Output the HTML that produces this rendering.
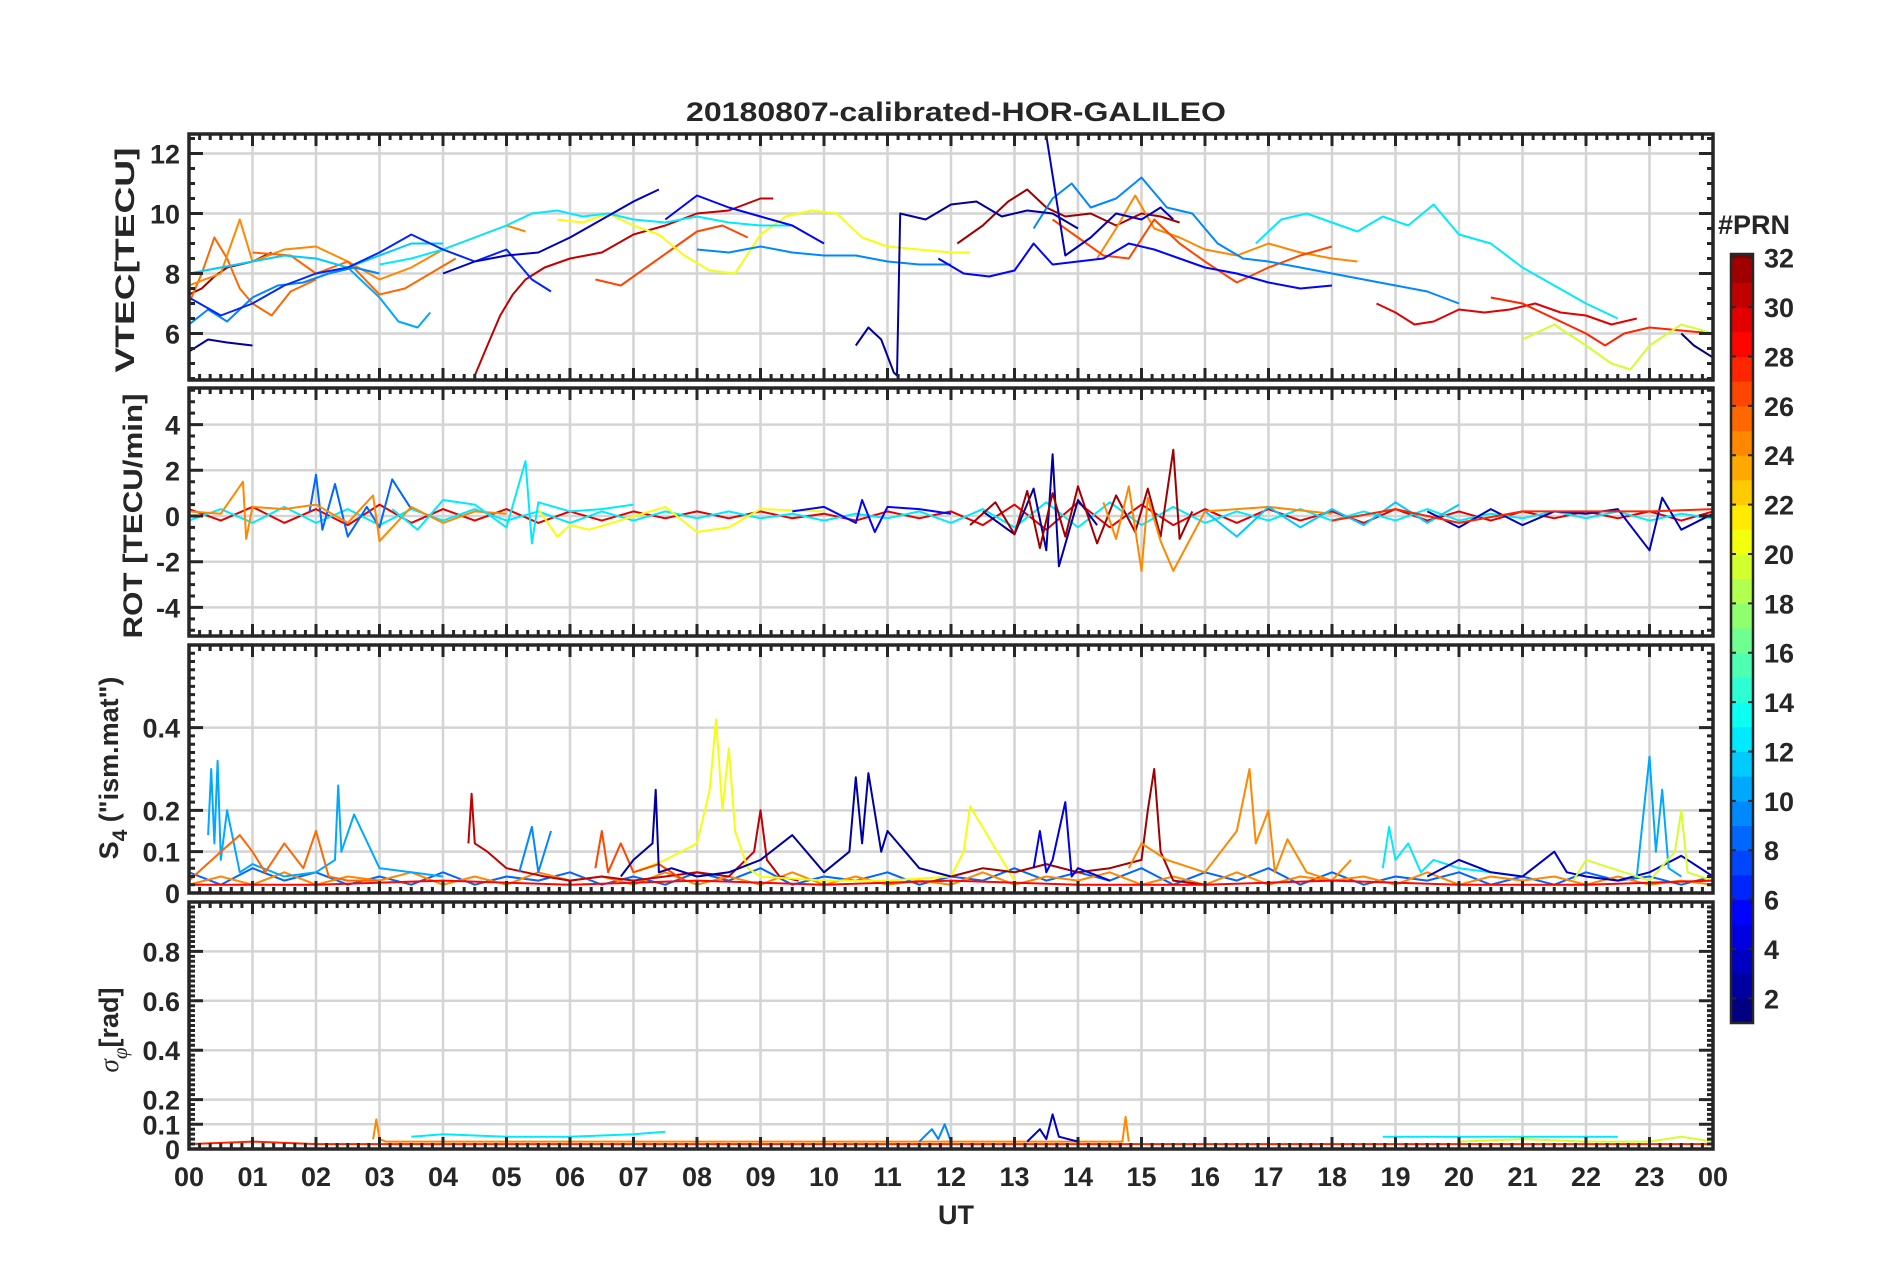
<!DOCTYPE html>
<html><head><meta charset="utf-8">
<style>
html,body{margin:0;padding:0;background:#fff;}
svg{display:block;font-family:"Liberation Sans",Arial,sans-serif;}
.t{font-weight:bold;fill:#262626;font-size:27px;}
</style></head>
<body>
<svg id="chart" width="1902" height="1272" viewBox="0 0 1902 1272" xmlns="http://www.w3.org/2000/svg">
<text class="t" x="956" y="121" text-anchor="middle" font-size="29" textLength="540" lengthAdjust="spacingAndGlyphs">20180807-calibrated-HOR-GALILEO</text>
<g id="panels"></g>
<text class="t" x="956" y="1224" text-anchor="middle" font-size="29">UT</text>
<text class="t" transform="translate(134,260) rotate(-90)" text-anchor="middle" font-size="30" textLength="225" lengthAdjust="spacingAndGlyphs">VTEC[TECU]</text>
<text class="t" transform="translate(142,516) rotate(-90)" text-anchor="middle" font-size="30" textLength="245" lengthAdjust="spacingAndGlyphs">ROT [TECU/min]</text>
<text class="t" transform="translate(118,768) rotate(-90)" text-anchor="middle" font-size="30">S<tspan font-size="21" dy="9">4</tspan><tspan dy="-9"> ("ism.mat")</tspan></text>
<text class="t" transform="translate(118,1030) rotate(-90)" text-anchor="middle" font-size="30"><tspan font-style="italic" font-weight="normal" font-family="Liberation Serif">σ</tspan><tspan font-size="21" dy="9" font-style="italic" font-weight="normal" font-family="Liberation Serif">φ</tspan><tspan dy="-9">[rad]</tspan></text>
<g id="cbar"></g>
<text class="t" x="1718" y="234" font-size="30">#PRN</text>
</svg>
<script>
// ---- data ----
const hourLabels=["00","01","02","03","04","05","06","07","08","09","10","11","12","13","14","15","16","17","18","19","20","21","22","23","00"];
const vtecTicks=[6,8,10,12];
const rotTicks=[-4,-2,0,2,4];
const s4Ticks=[0,0.1,0.2,0.4];
const sigTicks=[0,0.1,0.2,0.4,0.6,0.8];
const cbarTicks=[2,4,6,8,10,12,14,16,18,20,22,24,26,28,30,32];
const vtecSeries=[
 {prn:31,t:[0,0.2,0.4,0.6,0.8,1.0,1.3],v:[7.3,7.5,7.9,8.2,8.3,8.4,8.7]},
 {prn:30,t:[4.5,4.7,4.9,5.1,5.3,5.6,6.0,6.5,7.0,7.5,8.0,8.5,9.0,9.2],v:[4.6,5.6,6.6,7.3,7.8,8.2,8.5,8.7,9.3,9.6,10.0,10.1,10.5,10.5]},
 {prn:31,t:[12.1,12.5,12.9,13.2,13.5,13.8,14.2,14.6,15.0,15.3,15.6],v:[9.0,9.6,10.4,10.8,10.2,9.9,10.0,9.6,10.0,9.9,9.7]},
 {prn:29,t:[18.7,19.0,19.3,19.6,20.0,20.4,20.8,21.2,21.6,22.0,22.4,22.8],v:[7.0,6.7,6.3,6.4,6.8,6.7,6.8,7.0,6.7,6.6,6.3,6.5]},
 {prn:25,t:[0,0.2,0.4,0.6,0.8,1.0,1.3,1.6,2.0],v:[7.0,8.0,9.2,8.5,7.5,7.0,6.6,7.4,7.8]},
 {prn:24,t:[0,0.5,0.8,1.0,1.5,2.0,2.5,3.0,3.5,4.0,4.5,5.0,5.3],v:[7.6,8.0,9.8,8.4,8.8,8.9,8.4,7.8,8.2,8.8,9.2,9.6,9.4]},
 {prn:25,t:[1.0,1.6,2.0,2.5,3.0,3.4,3.8,4.2],v:[8.7,8.6,8.0,8.4,7.3,7.5,8.0,8.5]},
 {prn:26,t:[6.4,6.8,7.2,7.6,8.0,8.4,8.8],v:[7.8,7.6,8.2,8.8,9.4,9.6,9.2]},
 {prn:24,t:[14.3,14.6,14.9,15.2,15.6,16.0,16.5,17.0,17.5,18.0,18.4],v:[8.5,9.5,10.6,9.5,9.2,8.8,8.6,9.0,8.7,8.5,8.4]},
 {prn:26,t:[13.6,14.0,14.4,14.8,15.2,15.6,16.0,16.5,17.0,17.5,18.0],v:[9.8,9.2,8.6,8.5,9.8,9.0,8.4,7.7,8.2,8.6,8.9]},
 {prn:27,t:[20.5,21.0,21.5,22.0,22.3,22.6,23.0,23.5,24.0],v:[7.2,7.0,6.5,6.0,5.6,6.0,6.2,6.1,6.0]},
 {prn:20,t:[5.8,6.2,6.6,7.0,7.4,7.8,8.2,8.6,9.0,9.4,9.8,10.2,10.6,11.0,11.5,12.0,12.3],v:[9.8,9.7,10.0,9.6,9.3,8.6,8.1,8.0,9.3,9.9,10.1,10.0,9.2,8.9,8.8,8.7,8.7]},
 {prn:19,t:[21.0,21.5,22.0,22.4,22.7,23.0,23.5,24.0],v:[5.8,6.3,5.6,5.0,4.8,5.6,6.3,6.0]},
 {prn:12,t:[3.0,3.5,4.0,4.5,5.0,5.4,5.8,6.2,6.6,7.0,7.5,8.0,8.5,9.0,9.5],v:[8.3,8.5,8.8,9.2,9.6,10.0,10.1,9.9,10.0,9.8,9.7,9.9,9.7,9.6,9.6]},
 {prn:12,t:[16.8,17.2,17.6,18.0,18.4,18.8,19.2,19.6,20.0,20.5,21.0,21.5,22.0,22.5],v:[9.0,9.8,10.0,9.7,9.4,9.9,9.6,10.3,9.3,9.0,8.2,7.6,7.0,6.5]},
 {prn:11,t:[0,0.5,1.0,1.5,2.0,2.5,3.0,3.5,4.0],v:[8.0,8.2,8.4,8.6,8.5,8.2,8.6,9.0,9.0]},
 {prn:10,t:[2.5,3.0,3.3,3.6,3.8],v:[8.2,7.2,6.4,6.2,6.7]},
 {prn:9,t:[0,0.3,0.6,1.0,1.4,1.8,2.2,2.6,3.0],v:[6.3,6.8,6.4,7.2,7.6,7.7,8.0,8.2,8.0]},
 {prn:9,t:[8.0,8.5,9.0,9.5,10.0,10.5,11.0,11.5,12.0],v:[8.8,8.7,8.9,8.7,8.6,8.6,8.4,8.3,8.3]},
 {prn:9,t:[13.3,13.6,13.9,14.2,14.6,15.0,15.4,15.8,16.2,16.6,17.0,17.5,18.0,18.5,19.0,19.5,20.0],v:[9.5,10.5,11.0,10.2,10.5,11.2,10.2,10.0,9.0,8.5,8.4,8.2,8.0,7.8,7.6,7.4,7.0]},
 {prn:6,t:[0,0.5,1.0,1.5,2.0,2.5,3.0,3.5,4.0,4.5,5.0,5.4,5.7],v:[7.2,6.6,7.0,7.6,8.0,8.2,8.7,9.3,8.8,8.4,8.8,7.8,7.4]},
 {prn:5,t:[7.5,8.0,8.5,9.0,9.5,10.0],v:[9.8,10.6,10.2,9.9,9.6,9.0]},
 {prn:5,t:[11.8,12.2,12.6,13.0,13.3,13.6,14.0,14.4,14.8,15.2,15.6,16.0,16.5,17.0,17.5,18.0],v:[8.5,8.0,7.9,8.1,9.0,8.3,8.4,8.5,9.0,8.8,8.5,8.2,8.0,7.7,7.5,7.6]},
 {prn:2,t:[0,0.3,0.6,1.0],v:[5.4,5.8,5.7,5.6]},
 {prn:3,t:[4.0,4.5,5.0,5.5,6.0,6.5,7.0,7.4],v:[8.0,8.4,8.6,8.7,9.2,9.8,10.4,10.8]},
 {prn:2,t:[10.5,10.7,10.9,11.1,11.15,11.2,11.6,12.0,12.4,12.8,13.2,13.6,14.0],v:[5.6,6.2,5.8,4.7,4.6,10.0,9.8,10.3,10.4,9.9,10.1,10.0,9.5]},
 {prn:3,t:[13.5,13.8,14.2,14.6,15.0,15.3,15.5],v:[12.6,8.6,9.2,10.0,9.8,10.2,9.8]},
 {prn:1,t:[23.5,23.7,24.0],v:[6.0,5.6,5.2]}
];
const rotBaseT=[0,0.5,1,1.5,2,2.5,3,3.5,4,4.5,5,5.5,6,6.5,7,7.5,8,8.5,9,9.5,10,10.5,11,11.5,12,12.5,13,13.5,14,14.5,15,15.5,16,16.5,17,17.5,18,18.5,19,19.5,20,20.5,21,21.5,22,22.5,23,23.5,24];
const rotBaseA=[0.3,-0.2,0.4,-0.3,0.3,-0.4,0.5,-0.3,0.3,-0.2,0.3,-0.3,0.2,-0.2,0.2,-0.1,0.2,-0.1,0.2,-0.1,0.1,-0.2,0.2,-0.1,0.2,-0.4,0.5,-0.6,0.6,-0.5,0.5,-0.4,0.3,-0.3,0.3,-0.2,0.2,-0.3,0.3,-0.2,0.2,-0.2,0.2,-0.1,0.2,-0.1,0.2,-0.2,0.2];
const rotBaseB=[-0.2,0.3,-0.3,0.4,-0.3,0.3,-0.4,0.3,-0.2,0.3,-0.2,0.2,-0.3,0.2,-0.2,0.2,-0.1,0.2,-0.1,0.1,-0.2,0.1,-0.1,0.2,-0.3,0.3,-0.5,0.6,-0.5,0.6,-0.4,0.4,-0.3,0.2,-0.2,0.3,-0.2,0.2,-0.2,0.3,-0.2,0.1,-0.1,0.2,-0.1,0.2,-0.2,0.1,-0.1];
const rotSeries=[
 {prn:29,t:rotBaseT,v:rotBaseA},
 {prn:12,t:rotBaseT,v:rotBaseB},
 {prn:8,t:[1.9,2.0,2.1,2.3,2.5,2.8,3.0,3.2,3.5],v:[0.2,1.8,-0.6,1.4,-0.9,0.4,-0.5,1.6,0.3]},
 {prn:24,t:[0,0.5,0.85,0.9,1.0,1.5,2.0,2.5,2.9,3.0,3.5,4.0,4.5,5.0],v:[0.2,0.1,1.5,-1.0,0.4,0.3,0.5,-0.3,0.9,-1.1,0.4,-0.3,0.2,0.1]},
 {prn:12,t:[3.2,3.6,4.0,4.5,5.0,5.3,5.4,5.5,6.0,6.5,7.0],v:[0.3,-0.6,0.7,0.5,-0.5,2.4,-1.2,0.6,0.2,0.3,0.5]},
 {prn:20,t:[5.5,5.8,6.0,6.3,7.5,8.0,8.5,9.0,10.0],v:[0.3,-0.9,-0.4,-0.6,0.4,-0.7,-0.5,0.3,0.2]},
 {prn:5,t:[9.5,10.0,10.5,10.6,10.8,11.0,11.5,12.0],v:[0.2,0.4,-0.3,0.7,-0.7,0.4,0.3,0.1]},
 {prn:2,t:[12.5,13.0,13.3,13.5,13.6,13.7,14.0,14.3],v:[0.2,-0.8,1.2,-1.5,2.7,-2.2,0.7,-0.4]},
 {prn:31,t:[12.3,12.7,13.0,13.2,13.4,13.6,13.8,14.0,14.3,14.6,14.9,15.1,15.3,15.5,15.6,15.8],v:[-0.4,0.6,-0.8,1.1,-1.4,1.0,-0.9,1.3,-1.2,0.9,-0.7,1.2,-0.9,2.9,-1.0,0.2]},
 {prn:24,t:[14.4,14.6,14.8,15.0,15.1,15.3,15.5,16.0,17.0,18.0],v:[0.6,-1.0,1.3,-2.4,0.8,-1.1,-2.4,0.2,0.4,0.1]},
 {prn:11,t:[16.0,16.5,17.0,17.5,18.0,18.5,19.0,19.5,20.0],v:[0.2,-0.9,0.4,-0.5,0.3,-0.4,0.6,-0.3,0.5]},
 {prn:3,t:[19.5,20.0,20.5,21.0,21.5,22.0,22.5,23.0,23.2,23.5,24.0],v:[0.2,-0.5,0.3,-0.4,0.2,0.1,0.3,-1.5,0.8,-0.6,0.1]},
 {prn:27,t:[18.0,19.0,20.0,21.0,22.0,23.0,24.0],v:[-0.2,0.3,-0.3,0.2,0.2,0.2,0.3]}
];
const s4BaseA=[0.05,0.02,0.06,0.03,0.05,0.02,0.04,0.02,0.05,0.02,0.04,0.03,0.05,0.02,0.04,0.02,0.05,0.03,0.06,0.02,0.04,0.03,0.05,0.02,0.04,0.03,0.06,0.03,0.05,0.03,0.06,0.02,0.05,0.03,0.06,0.02,0.05,0.02,0.04,0.03,0.05,0.02,0.04,0.02,0.05,0.03,0.04,0.02,0.04];
const s4BaseB=[0.02,0.04,0.02,0.05,0.02,0.04,0.03,0.05,0.02,0.04,0.02,0.05,0.03,0.04,0.02,0.05,0.02,0.04,0.02,0.05,0.02,0.04,0.02,0.03,0.02,0.05,0.02,0.04,0.03,0.05,0.02,0.04,0.02,0.05,0.02,0.04,0.03,0.04,0.02,0.05,0.02,0.04,0.03,0.04,0.02,0.04,0.02,0.03,0.02];
const s4Series=[
 {prn:8,t:rotBaseT,v:s4BaseA},
 {prn:24,t:rotBaseT,v:s4BaseB},
 {prn:10,t:[0.3,0.35,0.4,0.45,0.5,0.6,0.8,1.0,1.5,2.0,2.3,2.35,2.4,2.6,3.0,3.5,4.0],v:[0.14,0.3,0.12,0.32,0.08,0.2,0.05,0.07,0.04,0.05,0.08,0.26,0.1,0.19,0.06,0.05,0.04]},
 {prn:25,t:[0,0.5,0.8,1.0,1.2,1.5,1.8,2.0,2.2,2.5,3.0],v:[0.03,0.1,0.14,0.1,0.05,0.12,0.06,0.15,0.04,0.03,0.03]},
 {prn:30,t:[4.4,4.45,4.5,4.7,5.0,5.3,5.6,6.0,6.5,7.0,7.5,8.0,8.5,8.9,9.0,9.1,9.3,9.6],v:[0.12,0.24,0.12,0.1,0.06,0.05,0.04,0.03,0.04,0.03,0.04,0.05,0.04,0.1,0.2,0.08,0.04,0.03]},
 {prn:9,t:[5.2,5.4,5.5,5.7],v:[0.05,0.16,0.05,0.15]},
 {prn:20,t:[7.0,7.5,8.0,8.2,8.3,8.4,8.5,8.6,8.8,9.0,10.0,11.0,12.0,12.2,12.3,13.0],v:[0.05,0.08,0.12,0.25,0.42,0.2,0.35,0.15,0.06,0.04,0.03,0.03,0.04,0.1,0.21,0.03]},
 {prn:26,t:[6.4,6.5,6.6,6.8,7.0,7.4,7.8],v:[0.06,0.15,0.05,0.12,0.05,0.07,0.03]},
 {prn:2,t:[6.8,7.0,7.3,7.35,7.4,7.6,8.0,8.5,9.0,9.5,10.0,10.4,10.5,10.6,10.7,10.9,11.0,11.5,12.0],v:[0.04,0.08,0.12,0.25,0.05,0.06,0.04,0.05,0.08,0.14,0.05,0.1,0.28,0.12,0.29,0.1,0.15,0.06,0.04]},
 {prn:31,t:[12.0,12.5,13.0,13.5,14.0,14.5,15.0,15.1,15.2,15.3,15.5,16.0],v:[0.04,0.06,0.05,0.07,0.05,0.06,0.08,0.2,0.3,0.1,0.03,0.02]},
 {prn:4,t:[13.3,13.4,13.5,13.6,13.8,13.9,14.0,14.5],v:[0.06,0.15,0.05,0.08,0.22,0.04,0.06,0.03]},
 {prn:24,t:[14.8,15.0,15.4,16.0,16.5,16.7,16.8,17.0,17.1,17.3,17.6,18.0,18.3],v:[0.06,0.12,0.08,0.05,0.15,0.3,0.12,0.2,0.05,0.13,0.05,0.03,0.08]},
 {prn:12,t:[18.8,18.9,19.0,19.2,19.4,19.6,20.0,20.5,21.0],v:[0.06,0.16,0.08,0.12,0.05,0.08,0.06,0.05,0.04]},
 {prn:3,t:[19.5,20.0,20.5,21.0,21.5,21.7,22.0,22.5,23.0,23.5,24.0],v:[0.04,0.08,0.05,0.04,0.1,0.05,0.04,0.03,0.05,0.09,0.04]},
 {prn:10,t:[22.8,23.0,23.1,23.2,23.3,23.5],v:[0.04,0.33,0.1,0.25,0.06,0.04]},
 {prn:19,t:[21.8,22.0,23.0,23.4,23.5,23.6,23.8,24.0],v:[0.03,0.08,0.03,0.1,0.2,0.05,0.04,0.03]},
 {prn:28,t:[0,2,4,6,8,10,12,14,16,18,20,22,24],v:[0.02,0.02,0.03,0.02,0.03,0.02,0.03,0.02,0.02,0.03,0.02,0.02,0.03]}
];
const sigSeries=[
 {prn:27,t:[0,1,2,3,4,5,6,7,8,9,10,11,12,13,14,15,16,17,18,19,20,21,22,23,24],v:[0.02,0.03,0.02,0.02,0.02,0.02,0.02,0.02,0.02,0.02,0.02,0.02,0.02,0.02,0.02,0.02,0.02,0.02,0.02,0.02,0.02,0.02,0.02,0.02,0.02]},
 {prn:12,t:[3.5,4.0,5.0,6.0,7.0,7.5],v:[0.05,0.06,0.05,0.05,0.06,0.07]},
 {prn:12,t:[18.8,19.5,20.5,21.5,22.5],v:[0.05,0.05,0.05,0.05,0.05]},
 {prn:24,t:[2.9,2.95,3.0,3.1,14.7,14.75,14.8],v:[0.04,0.12,0.04,0.03,0.03,0.13,0.03]},
 {prn:9,t:[11.5,11.7,11.8,11.9,12.0],v:[0.03,0.08,0.04,0.1,0.03]},
 {prn:3,t:[13.2,13.4,13.5,13.6,13.7,14.0],v:[0.03,0.08,0.04,0.14,0.05,0.03]},
 {prn:19,t:[20,21,22,23,23.5,24],v:[0.03,0.04,0.03,0.03,0.05,0.03]}
];
// ---- layout ----
const X0=189,X1=1713;
const panels=[
 {name:"vtec",top:134,bot:380,min:4.45,max:12.65,ticks:vtecTicks,minor:0.5,series:vtecSeries,lw:2},
 {name:"rot",top:388,bot:636,min:-5.25,max:5.6,ticks:rotTicks,minor:0.5,series:rotSeries,lw:2},
 {name:"s4",top:645,bot:893,min:0,max:0.6,ticks:s4Ticks,minor:0.02,series:s4Series,lw:2},
 {name:"sigma",top:902,bot:1149,min:0,max:1.0,ticks:sigTicks,minor:0.02,series:sigSeries,lw:2}
];
const NS="http://www.w3.org/2000/svg";
function mk(tag,attrs,parent){const e=document.createElementNS(NS,tag);for(const k in attrs)e.setAttribute(k,attrs[k]);parent.appendChild(e);return e;}
function xs(h){return X0+h*(X1-X0)/24;}
function jet(prn){const f=(prn-1)/31;const c=v=>Math.round(255*Math.max(0,Math.min(1,v)));
 return `rgb(${c(1.5-Math.abs(4*f-3))},${c(1.5-Math.abs(4*f-2))},${c(1.5-Math.abs(4*f-1))})`;}
const root=document.getElementById('panels');
panels.forEach(p=>{
 const ys=v=>p.bot-(v-p.min)/(p.max-p.min)*(p.bot-p.top);
 const g=mk('g',{},root);
 
 
 for(let h=1;h<24;h++){const l=mk('line',{x1:xs(h),x2:xs(h),y1:p.top,y2:p.bot,stroke:'#d4d4d4','stroke-width':2.5},g);
  }
 p.ticks.forEach(v=>{const l=mk('line',{x1:X0,x2:X1,y1:ys(v),y2:ys(v),stroke:'#d4d4d4','stroke-width':2.5},g);
  });
 const cl='clip-'+p.name;const cp=mk('clipPath',{id:cl},g);mk('rect',{x:X0,y:p.top,width:X1-X0,height:p.bot-p.top},cp);
 const sg=mk('g',{'clip-path':`url(#${cl})`},g);
 p.series.forEach(s=>{
  const pts=s.t.map((t,i)=>xs(t).toFixed(1)+','+ys(s.v[i]).toFixed(1)).join(' ');
  const pl=mk('polyline',{points:pts,fill:'none',stroke:jet(s.prn),'stroke-width':p.lw,'stroke-linejoin':'round'},sg);
  
  
 });
 let d='';
 for(let m=0;m<=144;m++){const x=xs(m/6);const L=(m%6==0)?12:6;d+=`M${x},${p.top}v${L}M${x},${p.bot}v${-L}`;}
 for(let v=Math.ceil(p.min/p.minor)*p.minor;v<=p.max+1e-9;v+=p.minor){const y=ys(v);d+=`M${X0},${y}h6M${X1},${y}h-6`;}
 p.ticks.forEach(v=>{const y=ys(v);d+=`M${X0},${y}h14M${X1},${y}h-14`;});
 const tk=mk('path',{d:d,stroke:'#262626','stroke-width':3,fill:'none'},g);
 
 const fr=mk('rect',{x:X0,y:p.top,width:X1-X0,height:p.bot-p.top,fill:'none',stroke:'#262626','stroke-width':3.5},g);
 
 p.ticks.forEach(v=>{const t=mk('text',{x:180,y:ys(v)+10,'text-anchor':'end',class:'t'},g);t.textContent=String(v);
  });
});
hourLabels.forEach((s,i)=>{const t=mk('text',{x:xs(i),y:1186,'text-anchor':'middle',class:'t'},root);t.textContent=s;
 });
// colorbar
const cb=document.getElementById('cbar');const CT=254,CB=1023,CX=1731,CW=22,CMIN=1,CMAX=32.15;
const cy=v=>CB-(v-CMIN)/(CMAX-CMIN)*(CB-CT);
for(let k=1;k<=32;k++){const y1=cy(k),y0=cy(Math.min(k+1,CMAX));const r=mk('rect',{x:CX,y:y0,width:CW,height:y1-y0+0.5,fill:jet(k)},cb);
 }
mk('rect',{x:CX,y:CT,width:CW,height:CB-CT,fill:'none',stroke:'#262626','stroke-width':2.5},cb);
cbarTicks.forEach(v=>{mk('path',{d:`M${CX},${cy(v)}h5M${CX+CW},${cy(v)}h-5`,stroke:'#262626','stroke-width':2},cb);
 const t=mk('text',{x:1764,y:cy(v)+10,class:'t'},cb);t.textContent=String(v);t.setAttribute('font-size','28');
 });
</script>
</body></html>
